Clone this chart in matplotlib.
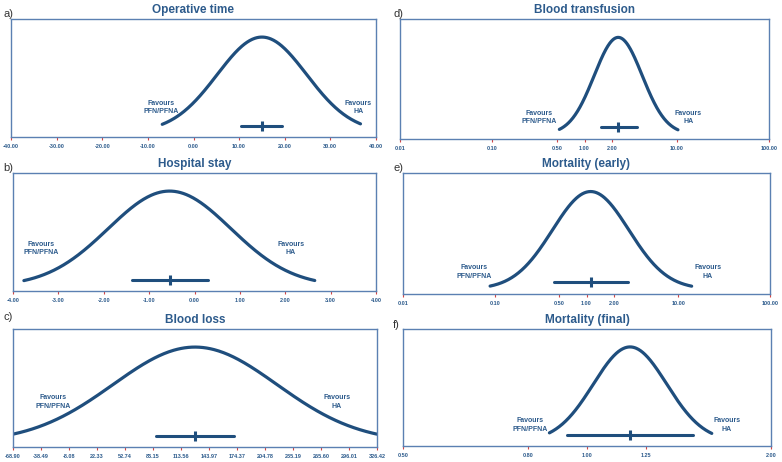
import numpy as np
import matplotlib.pyplot as plt
from matplotlib.ticker import NullLocator

plt.rcParams['font.family'] = ['Liberation Sans', 'DejaVu Sans']

# panel data: a) b) c) left column, d) e) f) right column
letters = ['a)', 'b)', 'c)', 'd)', 'e)', 'f)']
titles = ['Operative time', 'Hospital stay', 'Blood loss',
          'Blood transfusion', 'Mortality (early)', 'Mortality (final)']
log_scale = [False, False, False, True, True, True]
xlims = [(-40, 40), (-4, 4), (-68.90, 326.42),
         (0.01, 100), (0.01, 100), (0.5, 2.0)]
ticks = [[-40, -30, -20, -10, 0, 10, 20, 30, 40],
         [-4, -3, -2, -1, 0, 1, 2, 3, 4],
         [-68.90, -38.49, -8.08, 22.33, 52.74, 83.15, 113.56, 143.97,
          174.37, 204.78, 235.19, 265.60, 296.01, 326.42],
         [0.01, 0.10, 0.50, 1.00, 2.00, 10.00, 100.00],
         [0.01, 0.10, 0.50, 1.00, 2.00, 10.00, 100.00],
         [0.50, 0.80, 1.00, 1.25, 2.00]]
# point estimate, confidence interval, curve end points and spread (log10 for ratios)
means = [15.0, -0.55, 128.76, 2.32, 1.11, 1.176]
ci_low = [10.5, -1.37, 86.0, 1.52, 0.44, 0.929]
ci_high = [19.5, 0.29, 171.6, 3.70, 2.86, 1.49]
curve_low = [-6.85, -3.76, -68.90, 0.534, 0.089, 0.868]
curve_high = [36.6, 2.65, 326.42, 10.3, 14.0, 1.60]
spread = [9.8, 1.35, 89.0, 0.26, 0.416, 0.060]
# "Favours" label positions along x
fav_left_x = [-7.1, -3.39, -25.4, 0.32, 0.059, 0.807]
fav_right_x = [36.1, 2.125, 282.9, 13.3, 20.9, 1.693]
fav_y = [0.25, 0.36, 0.38, 0.18, 0.18, 0.18]

# axes boxes in figure pixels: left, top, right, bottom
W, H = 782, 462
boxes = [(11, 19, 376, 137), (13, 173, 376, 291), (13, 329, 377, 447),
         (400, 19, 769, 139), (403, 173, 770, 294), (403, 329, 771, 446)]
letter_pos = [(3, 14), (3, 168), (3, 317), (393, 14), (393, 168), (393, 325)]

curve_col = '#1f4e7d'
text_col = '#2d5b8c'
frame_col = '#5b80b2'

fig = plt.figure(figsize=(W / 100, H / 100), dpi=100)

for i in range(6):
    l, t, r, b = boxes[i]
    ax = fig.add_axes([l / W, 1 - b / H, (r - l) / W, (b - t) / H])

    if log_scale[i]:
        ax.set_xscale('log')
        xs = np.linspace(np.log10(curve_low[i]), np.log10(curve_high[i]), 300)
        ys = np.exp(-(xs - np.log10(means[i]))**2 / (2 * spread[i]**2))
        xs = 10**xs
    else:
        xs = np.linspace(curve_low[i], curve_high[i], 300)
        ys = np.exp(-(xs - means[i])**2 / (2 * spread[i]**2))

    ax.plot(xs, ys, color=curve_col, lw=2.3, solid_capstyle='round')
    ax.plot([ci_low[i], ci_high[i]], [0.07, 0.07], color=curve_col, lw=2.2,
            solid_capstyle='round')
    ax.plot([means[i]], [0.07], marker='|', ms=7, mew=2.2, color=curve_col)

    ax.set_xlim(*xlims[i])
    ax.set_ylim(-0.05, 1.19)
    ax.set_xticks(ticks[i])
    ax.set_xticklabels(['%.2f' % v for v in ticks[i]])
    ax.xaxis.set_minor_locator(NullLocator())
    ax.set_yticks([])
    ax.tick_params(axis='x', length=2, width=0.8, color='#d04545', pad=3,
                   labelsize=4, labelcolor=text_col)
    for lab in ax.get_xticklabels():
        lab.set_fontweight('bold')
    for s in ax.spines.values():
        s.set_color(frame_col)
        s.set_linewidth(1.0)

    ax.set_title(titles[i], fontsize=8.5, fontweight='bold', color=text_col, pad=4)

    tr = ax.get_xaxis_transform()
    ax.text(fav_left_x[i], fav_y[i], 'Favours\nPFN/PFNA', transform=tr,
            ha='center', va='center', fontsize=5, fontweight='bold',
            color=text_col, linespacing=1.3)
    ax.text(fav_right_x[i], fav_y[i], 'Favours\nHA', transform=tr,
            ha='center', va='center', fontsize=5, fontweight='bold',
            color=text_col, linespacing=1.3)

    lx, ly = letter_pos[i]
    fig.text(lx / W, 1 - ly / H, letters[i], fontsize=8, color='#333333',
             ha='left', va='center')

fig.savefig('out.png', dpi=100)
